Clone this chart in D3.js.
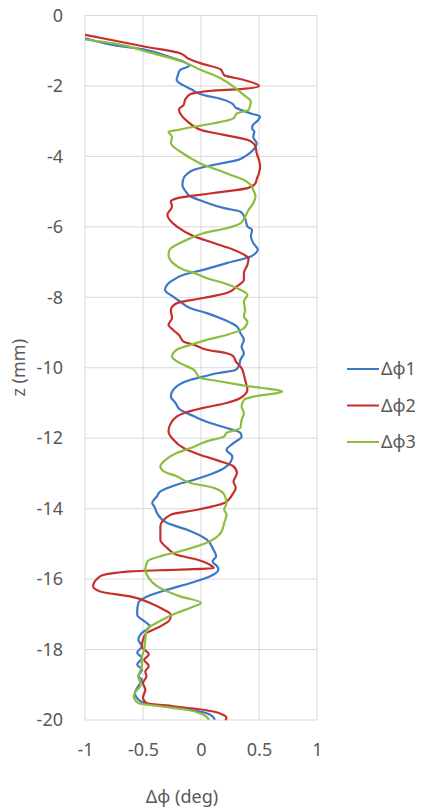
<!DOCTYPE html>
<html>
<head>
<meta charset="utf-8">
<script src="https://cdn.jsdelivr.net/npm/d3@7"></script>
<style>
  body { margin: 0; background: #fff; }
  text { font-family: "Noto Sans", "Open Sans", sans-serif; fill: #595959; }
</style>
</head>
<body>
<div id="chart"></div>
<script>
const svgWidth = 423
const svgHeight = 809

// [z (mm), delta phi (deg)]
const phi1Points = [
  [-0.65, -1.0], [-0.84, -0.75], [-0.98, -0.47], [-1.2, -0.25], [-1.31, -0.15], [-1.42, -0.1],
  [-1.55, -0.18], [-1.7, -0.2], [-1.83, -0.21], [-1.97, -0.16], [-2.1, -0.08], [-2.2, -0.03],
  [-2.28, 0.05], [-2.35, 0.15], [-2.5, 0.27], [-2.62, 0.3], [-2.7, 0.36], [-2.78, 0.43],
  [-2.87, 0.51], [-2.98, 0.49], [-3.1, 0.45], [-3.2, 0.44], [-3.3, 0.46], [-3.45, 0.45],
  [-3.63, 0.48], [-3.82, 0.45], [-4.0, 0.38], [-4.1, 0.32], [-4.24, 0.11], [-4.38, -0.06],
  [-4.5, -0.12], [-4.62, -0.15], [-4.81, -0.16], [-5.0, -0.13], [-5.14, -0.09], [-5.28, 0.02],
  [-5.47, 0.2], [-5.57, 0.34], [-5.76, 0.38], [-5.99, 0.4], [-6.08, 0.44], [-6.27, 0.43],
  [-6.46, 0.45], [-6.65, 0.49], [-6.75, 0.47], [-6.84, 0.43], [-7.03, 0.22], [-7.22, 0.02],
  [-7.36, -0.15], [-7.55, -0.26], [-7.79, -0.31], [-7.98, -0.24], [-8.12, -0.18], [-8.31, -0.09],
  [-8.45, 0.05], [-8.64, 0.2], [-8.83, 0.31], [-9.02, 0.34], [-9.21, 0.37], [-9.4, 0.35],
  [-9.59, 0.37], [-9.77, 0.34], [-9.92, 0.33], [-10.06, 0.3], [-10.15, 0.15], [-10.25, 0.02],
  [-10.34, -0.09], [-10.53, -0.21], [-10.81, -0.26], [-11.0, -0.22], [-11.19, -0.18], [-11.38, -0.06],
  [-11.57, 0.08], [-11.71, 0.22], [-11.85, 0.34], [-11.95, 0.35], [-12.14, 0.28], [-12.33, 0.22],
  [-12.52, 0.27], [-12.8, 0.22], [-12.99, 0.11], [-13.18, -0.06], [-13.32, -0.21], [-13.51, -0.35],
  [-13.65, -0.38], [-13.84, -0.42], [-13.95, -0.4], [-14.12, -0.38], [-14.41, -0.29], [-14.6, -0.12],
  [-14.88, 0.05], [-15.12, 0.1], [-15.35, 0.13], [-15.5, 0.1], [-15.64, 0.14], [-15.73, 0.15],
  [-15.92, 0.08], [-16.11, -0.09], [-16.3, -0.29], [-16.49, -0.46], [-16.68, -0.54], [-16.91, -0.55],
  [-17.01, -0.55], [-17.24, -0.47], [-17.34, -0.44], [-17.53, -0.51], [-17.72, -0.54], [-17.91, -0.51],
  [-18.09, -0.55], [-18.24, -0.51], [-18.43, -0.55], [-18.57, -0.51], [-18.76, -0.54], [-18.85, -0.51],
  [-19.09, -0.55], [-19.23, -0.57], [-19.42, -0.54], [-19.52, -0.49], [-19.61, -0.32], [-19.71, -0.09],
  [-19.85, 0.08], [-19.99, 0.12]
]

const phi2Points = [
  [-0.55, -1.0], [-0.71, -0.75], [-0.88, -0.49], [-1.07, -0.18], [-1.22, -0.11], [-1.36, 0.0],
  [-1.53, 0.17], [-1.69, 0.2], [-1.83, 0.37], [-2.0, 0.5], [-2.09, 0.34], [-2.13, 0.11],
  [-2.2, -0.05], [-2.23, -0.09], [-2.38, -0.135], [-2.54, -0.15], [-2.66, -0.19], [-2.87, -0.16],
  [-3.0, -0.12], [-3.15, -0.06], [-3.25, 0.0], [-3.39, 0.2], [-3.53, 0.4], [-3.72, 0.47],
  [-3.91, 0.48], [-4.1, 0.5], [-4.29, 0.51], [-4.47, 0.5], [-4.65, 0.48], [-4.76, 0.47],
  [-4.9, 0.4], [-5.04, 0.11], [-5.19, -0.21], [-5.28, -0.26], [-5.42, -0.25], [-5.66, -0.29],
  [-5.99, -0.21], [-6.27, -0.06], [-6.46, 0.11], [-6.65, 0.28], [-6.79, 0.37], [-6.89, 0.41],
  [-7.08, 0.4], [-7.31, 0.37], [-7.5, 0.37], [-7.69, 0.31], [-7.88, 0.22], [-8.02, 0.02],
  [-8.17, -0.21], [-8.36, -0.26], [-8.59, -0.25], [-8.78, -0.28], [-8.93, -0.24], [-9.07, -0.19],
  [-9.26, -0.15], [-9.35, -0.06], [-9.49, 0.05], [-9.59, 0.22], [-9.68, 0.28], [-9.82, 0.3],
  [-10.01, 0.35], [-10.2, 0.37], [-10.34, 0.38], [-10.62, 0.4], [-10.86, 0.34], [-11.0, 0.22],
  [-11.14, 0.02], [-11.29, -0.15], [-11.48, -0.24], [-11.81, -0.28], [-12.04, -0.24], [-12.28, -0.15],
  [-12.47, -0.01], [-12.66, 0.17], [-12.8, 0.28], [-12.99, 0.31], [-13.23, 0.28], [-13.41, 0.3],
  [-13.6, 0.27], [-13.7, 0.25], [-13.84, 0.2], [-14.03, -0.03], [-14.17, -0.26], [-14.5, -0.35],
  [-14.88, -0.35], [-15.12, -0.29], [-15.31, -0.21], [-15.45, -0.03], [-15.6, 0.08], [-15.69, 0.11],
  [-15.73, -0.18], [-15.78, -0.61], [-15.92, -0.87], [-16.2, -0.93], [-16.35, -0.87], [-16.49, -0.61],
  [-16.72, -0.41], [-16.87, -0.32], [-17.01, -0.26], [-17.06, -0.26], [-17.2, -0.28], [-17.39, -0.38],
  [-17.53, -0.47], [-17.72, -0.5], [-17.91, -0.51], [-18.14, -0.45], [-18.29, -0.49], [-18.47, -0.45],
  [-18.62, -0.48], [-18.76, -0.47], [-18.95, -0.5], [-19.14, -0.48], [-19.37, -0.5], [-19.52, -0.47],
  [-19.61, -0.24], [-19.71, 0.02], [-19.82, 0.17], [-19.94, 0.22], [-20.0, 0.21]
]

const phi3Points = [
  [-0.68, -1.0], [-0.79, -0.75], [-1.03, -0.47], [-1.26, -0.21], [-1.36, -0.12], [-1.55, 0.0],
  [-1.69, 0.11], [-1.88, 0.22], [-2.07, 0.3], [-2.26, 0.37], [-2.44, 0.43], [-2.6, 0.42],
  [-2.68, 0.41], [-2.78, 0.31], [-2.92, 0.28], [-3.06, 0.11], [-3.18, -0.1], [-3.25, -0.2],
  [-3.3, -0.28], [-3.44, -0.25], [-3.63, -0.26], [-3.72, -0.24], [-3.86, -0.18], [-4.05, -0.09],
  [-4.24, 0.02], [-4.38, 0.14], [-4.52, 0.25], [-4.67, 0.37], [-4.81, 0.43], [-4.95, 0.45],
  [-5.14, 0.47], [-5.33, 0.45], [-5.52, 0.41], [-5.71, 0.38], [-5.9, 0.34], [-6.04, 0.22],
  [-6.18, 0.02], [-6.32, -0.09], [-6.46, -0.18], [-6.65, -0.27], [-6.79, -0.28], [-7.03, -0.24],
  [-7.22, -0.15], [-7.31, -0.06], [-7.46, 0.05], [-7.6, 0.2], [-7.74, 0.31], [-7.93, 0.4],
  [-8.12, 0.37], [-8.36, 0.38], [-8.55, 0.37], [-8.69, 0.4], [-8.88, 0.37], [-9.07, 0.22],
  [-9.21, 0.05], [-9.35, -0.09], [-9.49, -0.21], [-9.68, -0.25], [-9.87, -0.18], [-10.06, -0.06],
  [-10.15, -0.04], [-10.28, -0.01], [-10.39, 0.17], [-10.5, 0.36], [-10.68, 0.7], [-10.82, 0.45],
  [-10.91, 0.37], [-11.1, 0.35], [-11.29, 0.37], [-11.48, 0.35], [-11.71, 0.34], [-11.85, 0.22],
  [-11.95, 0.2], [-12.09, 0.05], [-12.28, -0.09], [-12.42, -0.21], [-12.6, -0.3], [-12.8, -0.35],
  [-12.94, -0.32], [-13.08, -0.21], [-13.27, -0.09], [-13.41, 0.11], [-13.6, 0.2], [-13.84, 0.22],
  [-14.03, 0.2], [-14.17, 0.22], [-14.41, 0.2], [-14.69, 0.17], [-14.97, 0.05], [-15.21, -0.18],
  [-15.35, -0.35], [-15.49, -0.46], [-15.73, -0.48], [-15.92, -0.46], [-16.2, -0.38], [-16.49, -0.18],
  [-16.67, 0.0], [-16.8, -0.08], [-16.95, -0.2], [-17.1, -0.3], [-17.24, -0.38], [-17.44, -0.47],
  [-17.72, -0.48], [-18.0, -0.49], [-18.24, -0.51], [-18.47, -0.51], [-18.76, -0.54], [-19.0, -0.52],
  [-19.23, -0.57], [-19.33, -0.58], [-19.52, -0.54], [-19.61, -0.35], [-19.71, -0.12], [-19.85, 0.02],
  [-19.99, 0.07]
]

const seriesNames = ["Δϕ1", "Δϕ2", "Δϕ3"]
const seriesColors = ["#3b78c8", "#c62f2c", "#8dbd3e"]
const xTicks = [-1, -0.5, 0, 0.5, 1]
const yTicks = [0, -2, -4, -6, -8, -10, -12, -14, -16, -18, -20]

let margin = { top: 15.5, left: 85 }
let width = 232
let height = 704.5

let svg = d3
  .select("#chart")
  .append("svg")
  .attr("width", svgWidth)
  .attr("height", svgHeight)

let chartGroup = svg
  .append("g")
  .attr("transform", `translate(${margin.left}, ${margin.top})`)

let xScale = d3.scaleLinear().domain([-1, 1]).range([0, width])
let yScale = d3.scaleLinear().domain([0, -20]).range([0, height])

// gridlines
chartGroup
  .append("g")
  .selectAll("line")
  .data(xTicks)
  .enter()
  .append("line")
  .attr("x1", d => xScale(d))
  .attr("x2", d => xScale(d))
  .attr("y1", 0)
  .attr("y2", height)
  .attr("stroke", "#d9d9d9")
  .attr("stroke-width", 1)

chartGroup
  .append("g")
  .selectAll("line")
  .data(yTicks)
  .enter()
  .append("line")
  .attr("x1", 0)
  .attr("x2", width)
  .attr("y1", d => yScale(d))
  .attr("y2", d => yScale(d))
  .attr("stroke", "#d9d9d9")
  .attr("stroke-width", 1)

// tick labels via axes, domain and tick lines hidden
let bottomAxis = d3.axisBottom(xScale).tickValues(xTicks).tickSize(0).tickPadding(23).tickFormat(d3.format("~g"))
let leftAxis = d3.axisLeft(yScale).tickValues(yTicks).tickSize(0).tickPadding(22).tickFormat(d3.format("~g"))

let xAxis = chartGroup
  .append("g")
  .attr("transform", `translate(0, ${height})`)
  .call(bottomAxis)

let yAxis = chartGroup.append("g").call(leftAxis)

;[xAxis, yAxis].forEach(a => {
  a.select(".domain").remove()
  a.selectAll("text")
    .attr("font-size", "18px")
    .attr("font-family", "'Noto Sans', sans-serif")
    .attr("fill", "#595959")
    .text(function() { return d3.select(this).text().replace("−", "-") })
})

chartGroup
  .append("clipPath")
  .attr("id", "plot-clip")
  .append("rect")
  .attr("width", width)
  .attr("height", height + 2)

let line = d3
  .line()
  .x(d => xScale(d[1]))
  .y(d => yScale(d[0]))
  .curve(d3.curveMonotoneY)

let linesGroup = chartGroup.append("g").attr("clip-path", "url(#plot-clip)")

;[phi1Points, phi2Points, phi3Points].forEach((pts, i) => {
  linesGroup
    .append("path")
    .datum(pts)
    .attr("d", line)
    .attr("fill", "none")
    .attr("stroke", seriesColors[i])
    .attr("stroke-width", 2.2)
    .attr("stroke-linejoin", "round")
})

// axis titles
svg
  .append("text")
  .attr("x", 182)
  .attr("y", 797)
  .attr("dy", "0.35em")
  .attr("font-size", "18px")
  .style("text-anchor", "middle")
  .text("Δϕ (deg)")

svg
  .append("text")
  .attr("transform", `translate(19, ${margin.top + height / 2}) rotate(-90)`)
  .attr("dy", "0.35em")
  .attr("font-size", "18px")
  .style("text-anchor", "middle")
  .text("z (mm)")

// legend
let legend = svg
  .append("g")
  .attr("transform", "translate(347, 369)")

seriesNames.forEach((name, i) => {
  let row = legend.append("g").attr("transform", `translate(0, ${i * 36.5})`)
  row.append("line")
    .attr("x1", 0)
    .attr("x2", 32)
    .attr("y1", 0)
    .attr("y2", 0)
    .attr("stroke", seriesColors[i])
    .attr("stroke-width", 2)
  row.append("text")
    .attr("x", 34)
    .attr("dy", "0.35em")
    .attr("font-size", "18px")
    .text(name)
})
</script>
</body>
</html>
